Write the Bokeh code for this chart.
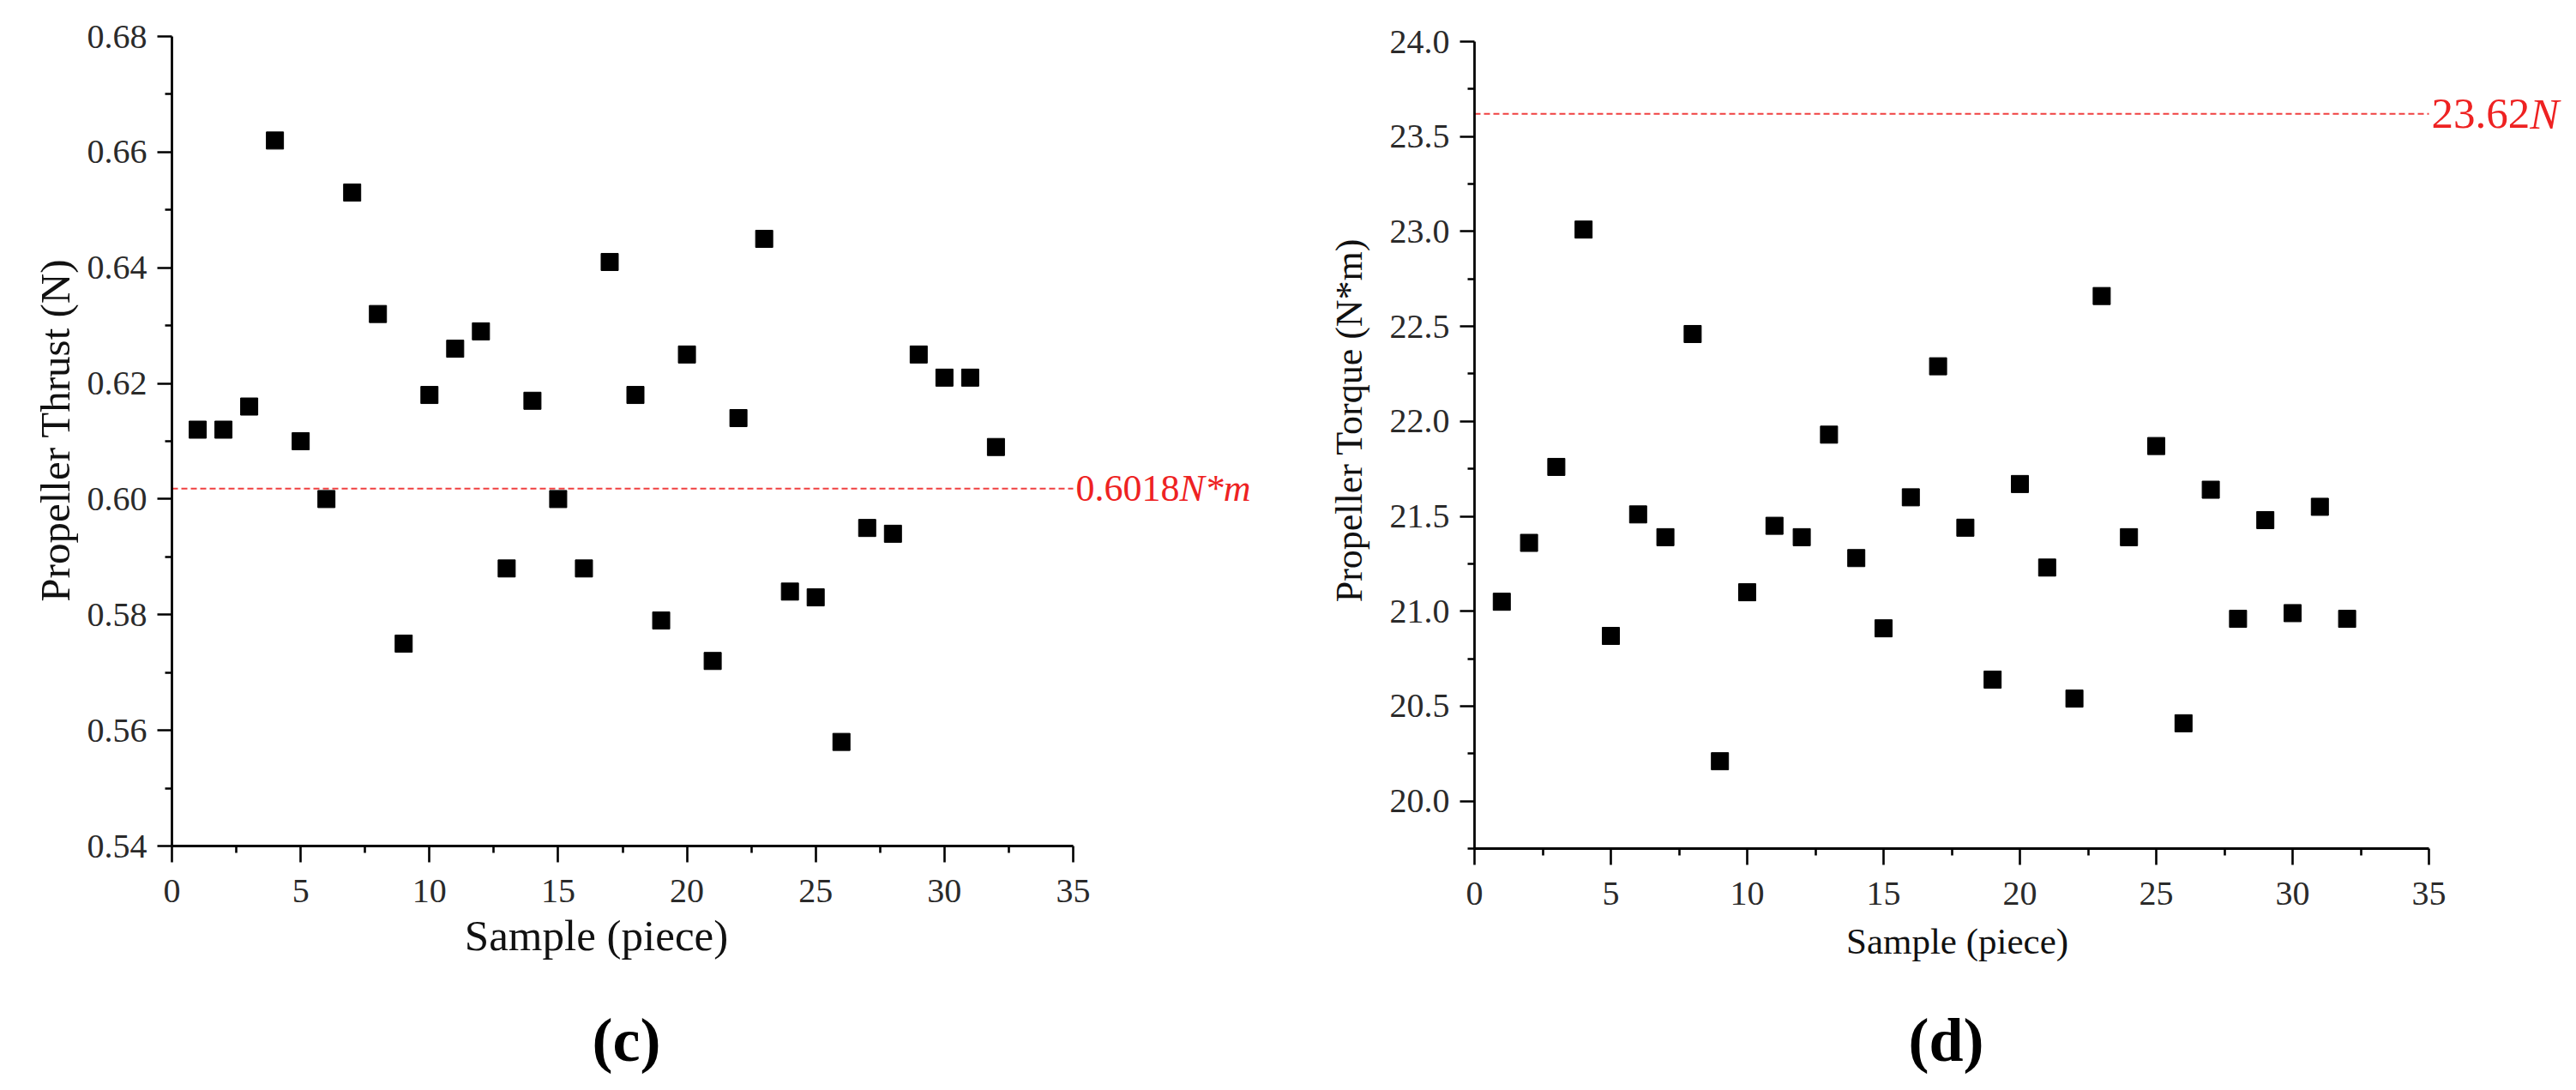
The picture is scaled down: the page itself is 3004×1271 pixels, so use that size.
import math
from bokeh.plotting import figure
from bokeh.layouts import row
from bokeh.models import FixedTicker, Range1d, Label, NumeralTickFormatter
from bokeh.embed import file_html
from bokeh.resources import INLINE

# ---------------- data ----------------
sample = [1, 2, 3, 4, 5, 6, 7, 8, 9, 10, 11, 12, 13, 14, 15, 16,
          17, 18, 19, 20, 21, 22, 23, 24, 25, 26, 27, 28, 29, 30, 31, 32]
thrust = [0.612, 0.612, 0.616, 0.662, 0.610, 0.600, 0.653, 0.632,
          0.575, 0.618, 0.626, 0.629, 0.588, 0.617, 0.600, 0.588,
          0.641, 0.618, 0.579, 0.625, 0.572, 0.614, 0.645, 0.584,
          0.583, 0.558, 0.595, 0.594, 0.625, 0.621, 0.621, 0.609]
torque = [21.05, 21.36, 21.76, 23.01, 20.87, 21.51, 21.39, 22.46,
          20.21, 21.10, 21.45, 21.39, 21.93, 21.28, 20.91, 21.60,
          22.29, 21.44, 20.64, 21.67, 21.23, 20.54, 22.66, 21.39,
          21.87, 20.41, 21.64, 20.96, 21.48, 20.99, 21.55, 20.96]

thrust_ref = 0.6018
torque_ref = 23.62
thrust_ref_num, thrust_ref_unit = "0.6018", "N*m"
torque_ref_num, torque_ref_unit = "23.62", "N"

x_ticks = [0, 5, 10, 15, 20, 25, 30, 35]
x_minor = [2.5, 7.5, 12.5, 17.5, 22.5, 27.5, 32.5]
thrust_ticks = [0.54, 0.56, 0.58, 0.60, 0.62, 0.64, 0.66, 0.68]
thrust_minor = [0.55, 0.57, 0.59, 0.61, 0.63, 0.65, 0.67]
torque_ticks = [20.0, 20.5, 21.0, 21.5, 22.0, 22.5, 23.0, 23.5, 24.0]
torque_minor = [19.75, 20.25, 20.75, 21.25, 21.75, 22.25, 22.75, 23.25, 23.75]
thrust_range = (0.54, 0.68)
torque_range = (19.75, 24.0)

x_title = "Sample (piece)"
thrust_title = "Propeller Thrust  (N)"
torque_title = "Propeller Torque  (N*m)"

SERIF = "Liberation Serif"
RED = "#ee2222"
LINE_RED = "#f04040"
FIG_H = 1263
FIG_TOP = 0


def make_panel(y, y_ticks, y_minor, y_range, y_title, y_fmt, ref, ref_num, ref_unit,
               panel_tag, fig_left, fig_w, ax_left, ax_right, ax_top, ax_bottom,
               ytitle_pos, xtitle_pos, tag_pos, ytitle_size, xtitle_size, ref_size):
    # the whole figure is the frame; axes sit at fixed locations inside it
    x0, x1 = x_ticks[0], x_ticks[-1]
    y0, y1 = y_range
    kx = (ax_right - ax_left) / (x1 - x0)
    ky = (ax_bottom - ax_top) / (y1 - y0)
    xr = Range1d(x0 - (ax_left - fig_left) / kx, x0 + (fig_left + fig_w - ax_left) / kx)
    yr = Range1d(y1 - (FIG_TOP + FIG_H - ax_top) / ky, y1 + (ax_top - FIG_TOP) / ky)

    def dx(px):
        return x0 + (px - ax_left) / kx

    def dy(py):
        return y1 - (py - ax_top) / ky

    p = figure(frame_width=fig_w, frame_height=FIG_H, x_range=xr, y_range=yr,
               output_backend="svg", toolbar_location=None,
               min_border=0, min_border_left=0, min_border_right=0,
               min_border_top=0, min_border_bottom=0,
               background_fill_color="white", border_fill_color="white")
    p.outline_line_color = None
    p.xgrid.visible = False
    p.ygrid.visible = False

    p.xaxis.ticker = FixedTicker(ticks=x_ticks, minor_ticks=x_minor)
    p.yaxis.ticker = FixedTicker(ticks=y_ticks, minor_ticks=y_minor)
    p.yaxis.formatter = NumeralTickFormatter(format=y_fmt)
    p.xaxis.fixed_location = y0
    p.yaxis.fixed_location = x0
    p.xaxis.bounds = (x0, x1)
    p.yaxis.bounds = (y0, y1)

    for ax in (p.xaxis[0], p.yaxis[0]):
        ax.axis_line_width = 2.8
        ax.axis_line_color = "black"
        ax.major_tick_in = 0
        ax.minor_tick_in = 0
        ax.major_tick_line_width = 2.6
        ax.minor_tick_line_width = 2.6
        ax.minor_tick_out = 8
        ax.major_label_text_font = SERIF
        ax.major_label_text_font_size = "40px"
        ax.major_label_text_color = "#2a2a2a"
    p.xaxis.major_tick_out = 19
    p.yaxis.major_tick_out = 17
    p.xaxis.major_label_standoff = 20
    p.yaxis.major_label_standoff = 12

    # reference (mean / limit) line and its label
    p.line(x=[x0, x1], y=[ref, ref], line_color=LINE_RED, line_width=2, line_dash="7 4")
    p.add_layout(Label(x=x1, y=ref, text=ref_num, x_offset=3,
                       text_baseline="middle", text_align="left",
                       text_font=SERIF, text_font_size=f"{ref_size}px",
                       text_color=RED))
    num_w = ref_size * (0.5 * sum(c.isdigit() for c in ref_num) + 0.25 * ref_num.count("."))
    p.add_layout(Label(x=x1, y=ref, text=ref_unit, x_offset=3 + num_w,
                       text_baseline="middle", text_align="left",
                       text_font=SERIF, text_font_style="italic",
                       text_font_size=f"{ref_size}px", text_color=RED))

    p.scatter(sample, y, marker="square", size=20, color="black")

    # axis titles and panel tag
    p.add_layout(Label(x=dx(ytitle_pos[0]), y=dy(ytitle_pos[1]), text=y_title,
                       angle=math.pi / 2, text_align="center", text_baseline="middle",
                       text_font=SERIF, text_font_size=f"{ytitle_size}px",
                       text_color="#111111"))
    p.add_layout(Label(x=dx(xtitle_pos[0]), y=dy(xtitle_pos[1]), text=x_title,
                       text_align="center", text_baseline="middle",
                       text_font=SERIF, text_font_size=f"{xtitle_size}px",
                       text_color="#111111"))
    p.add_layout(Label(x=dx(tag_pos[0]), y=dy(tag_pos[1]), text=panel_tag,
                       text_align="center", text_baseline="middle",
                       text_font=SERIF, text_font_size="72px",
                       text_font_style="bold", text_color="black"))
    return p


p1 = make_panel(thrust, thrust_ticks, thrust_minor, thrust_range, thrust_title, "0.00",
                thrust_ref, thrust_ref_num, thrust_ref_unit, "(c)",
                fig_left=0, fig_w=1539, ax_left=200, ax_right=1251, ax_top=42, ax_bottom=986,
                ytitle_pos=(64, 495), xtitle_pos=(695, 1090), tag_pos=(730, 1212),
                ytitle_size=49, xtitle_size=51, ref_size=44)
p2 = make_panel(torque, torque_ticks, torque_minor, torque_range, torque_title, "0.0",
                torque_ref, torque_ref_num, torque_ref_unit, "(d)",
                fig_left=1539, fig_w=1460, ax_left=1719, ax_right=2832, ax_top=48, ax_bottom=989,
                ytitle_pos=(1573, 484), xtitle_pos=(2282, 1097), tag_pos=(2269, 1212),
                ytitle_size=44, xtitle_size=43, ref_size=51)

layout = row(p1, p2)
open("out.html", "w").write(file_html(layout, INLINE))
